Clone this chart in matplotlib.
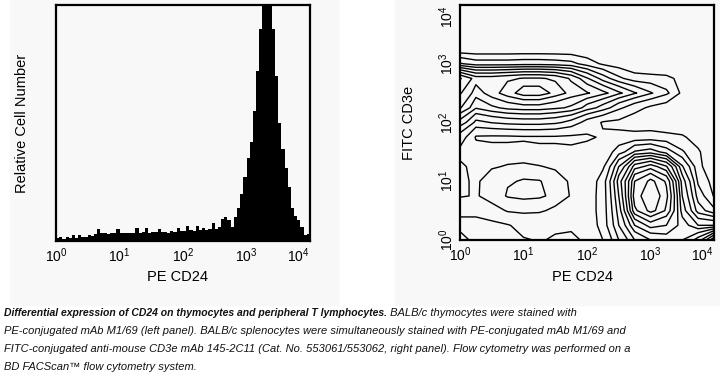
import numpy as np
import matplotlib
matplotlib.use("Agg")
import matplotlib.pyplot as plt
from matplotlib.patches import Rectangle

plt.rcParams['font.family'] = ['Liberation Sans', 'DejaVu Sans']
plt.rcParams['mathtext.fontset'] = 'custom'
plt.rcParams['mathtext.rm'] = 'Liberation Sans'

# Left panel: histogram counts per 0.05-decade bin (1 to 10^4, 80 bins), axis top = 100
hist_counts = [
    1.2, 1.5, 1.0, 1.8, 1.3, 2.6, 1.4, 2.4, 1.6, 1.8, 2.6, 2.0,            # 10^0 - 10^0.6
    3.0, 5.0, 3.2, 3.4, 3.0, 3.6, 3.2, 5.0, 3.4, 3.2, 3.6, 3.4, 3.2, 5.5,  # - 10^1.3
    3.6, 3.8, 5.5, 3.6, 4.0, 3.8, 5.0, 3.8, 4.0, 3.6, 4.2, 4.0, 5.5, 4.2,  # - 10^2
    4.4, 6.5, 4.6, 4.4, 6.5, 4.8, 5.5, 4.6, 5.0, 7.5, 5.0,                 # - 10^2.55
    6.0, 9.5, 10.0, 9.0, 6.0, 10.0, 14.0, 20.0, 27.0, 35.0, 42.0, 55.0,     # - 10^3.15
    72.0, 90.0, 115.0, 120.0, 110.0, 90.0, 70.0, 50.0, 39.0, 31.0, 23.0,    # - 10^3.7
    14.0, 10.5, 9.0, 6.0, 2.5, 3.0,                                         # - 10^4
]

# Right panel: contour level grid, log10(PE CD24) columns x log10(FITC CD3e) rows
grid_decades = [0, 0.25, 0.5, 0.75, 1, 1.25, 1.5, 1.75, 2, 2.25, 2.5, 2.75, 3, 3.25, 3.5, 3.75, 4]
density_rows = [
    [1.2, 0.8, 0.6, 0.8, 0.95, 1.05, 0.9, 0.9, 1.1, 2.0, 4.0, 6.0, 7.0, 7.5, 8.0, 9.5, 13.0],    # 10^0
    [0.8, 0.8, 0.8, 0.95, 1.3, 1.5, 1.2, 1.1, 1.3, 2.5, 5.0, 8.0, 9.5, 9.0, 7.5, 6.0, 6.0],
    [1.2, 1.2, 1.6, 2.1, 2.2, 2.1, 1.8, 1.5, 1.5, 2.5, 5.5, 10.8, 12.4, 10.8, 6.5, 3.5, 2.2],
    [2.1, 1.9, 2.5, 3.1, 3.3, 3.2, 2.6, 1.9, 1.5, 2.5, 6.0, 11.6, 12.8, 11.3, 6.0, 2.5, 0.9],
    [2.1, 1.9, 2.4, 2.9, 3.1, 3.05, 2.5, 1.8, 1.4, 2.5, 6.5, 11.0, 12.3, 10.8, 5.5, 1.8, 0.5],   # 10^1
    [2.1, 1.8, 1.9, 2.1, 2.2, 2.05, 1.8, 1.5, 1.3, 1.8, 5.0, 8.5, 9.5, 8.1, 4.1, 1.2, 0.3],
    [1.8, 1.3, 1.2, 1.2, 1.2, 1.1, 1.1, 1.1, 1.2, 1.4, 2.5, 4.1, 4.5, 3.5, 2.1, 1.1, 0.2],
    [2.5, 0.9, 0.85, 0.85, 0.9, 0.9, 0.9, 0.85, 0.9, 1.1, 1.15, 1.2, 1.3, 1.2, 1.1, 0.6, 0.0],
    [4.6, 2.7, 3.05, 3.3, 3.4, 3.4, 3.2, 2.6, 1.5, 0.9, 0.8, 0.6, 0.5, 0.4, 0.3, 0.1, 0.0],     # 10^2
    [7.1, 5.1, 5.8, 6.3, 6.5, 6.5, 6.2, 5.8, 4.5, 3.5, 2.2, 1.3, 0.8, 0.5, 0.2, 0.0, 0.0],
    [8.1, 6.5, 7.6, 8.6, 9.6, 9.6, 8.6, 7.6, 7.1, 6.3, 5.2, 4.1, 3.1, 2.2, 0.7, 0.0, 0.0],
    [9.1, 7.5, 7.5, 7.8, 8.1, 8.1, 7.8, 6.8, 5.1, 3.5, 2.2, 1.4, 1.3, 1.2, 0.7, 0.1, 0.0],
    [3.1, 2.5, 2.5, 2.5, 2.6, 2.6, 2.5, 2.3, 1.5, 0.8, 0.4, 0.1, 0.0, 0.0, 0.0, 0.0, 0.0],     # 10^3
    [0.0] * 17,
    [0.0] * 17,
    [0.0] * 17,
    [0.0] * 17,                                                                                # 10^4
]

decade_ticks = [1, 10, 100, 1000, 10000]
tick_labels = [r'$\mathregular{10^{%d}}$' % k for k in range(5)]

caption_bold = "Differential expression of CD24 on thymocytes and peripheral T lymphocytes."
caption_rest = [
    " BALB/c thymocytes were stained with",
    "PE-conjugated mAb M1/69 (left panel). BALB/c splenocytes were simultaneously stained with PE-conjugated mAb M1/69 and",
    "FITC-conjugated anti-mouse CD3e mAb 145-2C11 (Cat. No. 553061/553062, right panel). Flow cytometry was performed on a",
    "BD FACScan\u2122 flow cytometry system.",
]

W, H = 720, 373
fig = plt.figure(figsize=(W / 100, H / 100), dpi=100)
fig.patch.set_facecolor('white')

# light grey panel backgrounds
panel_grey = '#f8f8f8'
fig.patches.append(Rectangle((10 / W, 1 - 305 / H), 328 / W, 305 / H,
                             transform=fig.transFigure, color=panel_grey, zorder=-10))
fig.patches.append(Rectangle((395 / W, 1 - 305 / H), 325 / W, 305 / H,
                             transform=fig.transFigure, color=panel_grey, zorder=-10))

ax1 = fig.add_axes([56 / W, 1 - 241 / H, 254 / W, 236 / H])
ax2 = fig.add_axes([460 / W, 1 - 240 / H, 254 / W, 235 / H])

# histogram
edges = np.logspace(0, 4, len(hist_counts) + 1)
ax1.stairs(hist_counts, edges, fill=True, color='black', linewidth=0)
ax1.set_xscale('log')
ax1.set_xlim(1, 1e4)
ax1.set_ylim(0, 100)
ax1.set_yticks([])

# contour plot
gx = np.power(10.0, grid_decades)
Z = np.array(density_rows)
ax2.contour(gx, gx, Z, levels=np.arange(1, 14), colors='black', linewidths=1.0)
ax2.set_xscale('log')
ax2.set_yscale('log')
ax2.set_xlim(1, 1e4)
ax2.set_ylim(1, 1e4)

for ax in (ax1, ax2):
    ax.set_facecolor('none')
    for s in ax.spines.values():
        s.set_linewidth(1.6)
        s.set_color('black')
    ax.set_xticks(decade_ticks)
    ax.set_xticklabels(tick_labels)
    ax.xaxis.set_minor_locator(matplotlib.ticker.NullLocator())
    ax.yaxis.set_minor_locator(matplotlib.ticker.NullLocator())
    ax.tick_params(axis='both', length=0, labelsize=10, pad=4)
    ax.get_xticklabels()[-1].set_ha('right')
    ax.set_xlabel("PE CD24", fontsize=10.5)
    ax.xaxis.label.set_va('center')

ax2.set_yticks(decade_ticks)
ax2.set_yticklabels(tick_labels, rotation=90, va='center')
ax2.tick_params(axis='y', pad=3)
ax2.get_yticklabels()[-1].set_va('top')

ax1.set_ylabel("Relative Cell Number", fontsize=10.5, va='center')
ax2.set_ylabel("FITC CD3e", fontsize=10.5, va='center')
ax1.yaxis.set_label_coords(-0.132, 0.5)
ax2.yaxis.set_label_coords(-0.20, 0.5)
ax1.xaxis.set_label_coords(0.48, -0.153)
ax2.xaxis.set_label_coords(0.484, -0.157)

# caption
cap_size = 8.0
line_y = [313, 331, 349, 367]
t = fig.text(4 / W, 1 - line_y[0] / H, caption_bold, fontsize=7.5, style='italic',
             weight='bold', va='center', color='#111111')
fig.canvas.draw()
bb = t.get_window_extent(fig.canvas.get_renderer())
fig.text(bb.x1 / W, 1 - line_y[0] / H, caption_rest[0], fontsize=cap_size, style='italic',
         va='center', color='#111111')
for txt, yy in zip(caption_rest[1:], line_y[1:]):
    fig.text(4 / W, 1 - yy / H, txt, fontsize=cap_size, style='italic',
             va='center', color='#111111')

fig.savefig("out.png", dpi=100, facecolor='white')
